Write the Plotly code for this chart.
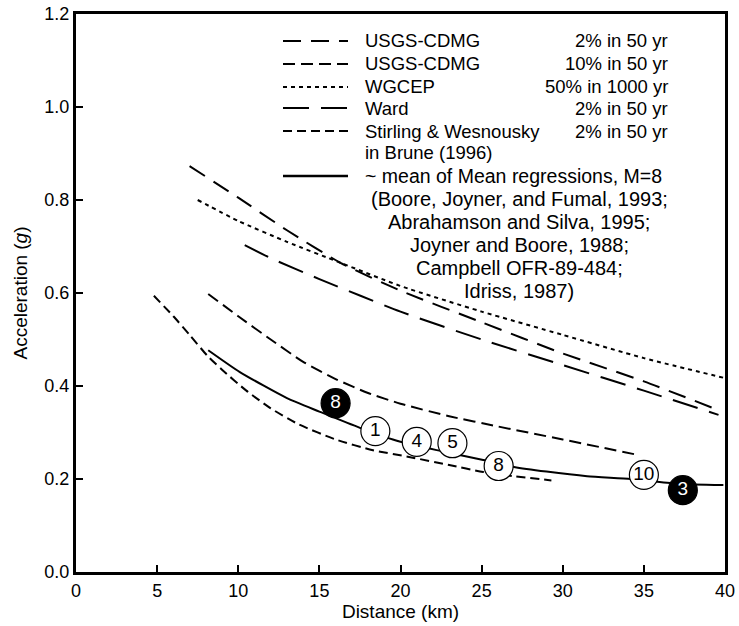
import plotly.graph_objects as go

# ---------------- data ----------------
usgs2_x = [7.0, 10, 13, 16.3, 20, 25, 30, 35, 39.6]
usgs2_y = [0.873, 0.805, 0.735, 0.665, 0.605, 0.537, 0.47, 0.41, 0.348]

usgs10_x = [8.15, 10, 12, 14, 16, 18, 20, 23, 26, 30, 34.6]
usgs10_y = [0.598, 0.55, 0.50, 0.452, 0.415, 0.385, 0.362, 0.335, 0.313, 0.285, 0.252]

wgcep_x = [7.5, 10, 13, 16.3, 20, 25, 30, 35, 40]
wgcep_y = [0.80, 0.755, 0.71, 0.665, 0.615, 0.56, 0.51, 0.46, 0.417]

ward_x = [10.4, 12, 15, 20, 25, 30, 35, 39.6]
ward_y = [0.703, 0.675, 0.63, 0.56, 0.50, 0.445, 0.39, 0.338]

stirling_x = [4.8, 6, 7, 8.1, 9, 10.5, 12, 13.7, 16, 18.3, 20.6, 23, 25.1, 27, 29.3]
stirling_y = [0.594, 0.55, 0.51, 0.465, 0.435, 0.39, 0.352, 0.318, 0.285, 0.262, 0.247, 0.23, 0.215, 0.206, 0.197]

mean_x = [8.15, 10.1, 13, 15, 17.5, 20, 22.5, 25.1, 27, 29, 31.5, 34.2, 37, 39.9]
mean_y = [0.477, 0.43, 0.374, 0.345, 0.31, 0.28, 0.26, 0.241, 0.226, 0.216, 0.206, 0.20, 0.19, 0.187]

marker_x = [16.0, 18.45, 21.0, 23.2, 26.05, 35.0, 37.4]
marker_y = [0.363, 0.303, 0.28, 0.277, 0.228, 0.209, 0.176]
marker_text = ["8", "1", "4", "5", "8", "10", "3"]
marker_filled = [True, False, False, False, False, False, True]

x_ticks = [0, 5, 10, 15, 20, 25, 30, 35, 40]
y_ticks = [0.0, 0.2, 0.4, 0.6, 0.8, 1.0, 1.2]
y_ticklabels = ["0.0", "0.2", "0.4", "0.6", "0.8", "1.0", "1.2"]

legend_names = ["USGS-CDMG", "USGS-CDMG", "WGCEP", "Ward", "Stirling & Wesnousky"]
legend_periods = ["2% in 50 yr", "10% in 50 yr", "50% in 1000 yr", "2% in 50 yr", "2% in 50 yr"]
mean_label = "~ mean of Mean regressions, M=8"
refs = ["(Boore, Joyner, and Fumal, 1993;", "Abrahamson and Silva, 1995;",
        "Joyner and Boore, 1988;", "Campbell OFR-89-484;", "Idriss, 1987)"]

# ---------------- styles ----------------
FONT = "Liberation Sans, Arial, sans-serif"
dashes = ["18px,10px", "12px,6px", "4px,4px", "26px,12px", "9px,5px"]
series = [(usgs2_x, usgs2_y), (usgs10_x, usgs10_y), (wgcep_x, wgcep_y),
          (ward_x, ward_y), (stirling_x, stirling_y)]

fig = go.Figure()
for (sx, sy), d, n in zip(series, dashes, legend_names):
    fig.add_trace(go.Scatter(x=sx, y=sy, mode="lines",
                             line=dict(color="black", width=2, dash=d, shape="spline", smoothing=0.6),
                             name=n, showlegend=False, hoverinfo="skip"))
fig.add_trace(go.Scatter(x=mean_x, y=mean_y, mode="lines",
                         line=dict(color="black", width=2, shape="spline", smoothing=0.6),
                         showlegend=False, hoverinfo="skip"))

fill = ["black" if f else "white" for f in marker_filled]
tcol = ["white" if f else "black" for f in marker_filled]
fig.add_trace(go.Scatter(x=marker_x, y=marker_y, mode="markers+text", text=marker_text,
                         textposition="middle center",
                         textfont=dict(family=FONT, size=19, color=tcol),
                         marker=dict(size=29, color=fill, line=dict(color="black", width=1.2)),
                         showlegend=False, hoverinfo="skip"))

# ---------------- legend (drawn by hand to mimic the two-column layout) ----------------
L, R, T, B = 76, 14, 14, 54
W, H = 739, 626
pw, ph = W - L - R, H - T - B

def px(xp):
    return (xp - L) / pw

def py(yp):
    return (H - B - yp) / ph

row_y = [41, 64, 87, 108, 131]
key_x0, key_x1, text_x, right_x = 283, 348, 363, 670
LEG = dict(size=18.5)
REF = dict(size=20)
shapes = []
annotations = []
for ry, d, n, p in zip(row_y, dashes, legend_names, legend_periods):
    shapes.append(dict(type="line", xref="paper", yref="paper", x0=px(key_x0), x1=px(key_x1),
                       y0=py(ry), y1=py(ry), line=dict(color="black", width=2, dash=d)))
    annotations.append(dict(xref="paper", yref="paper", x=px(text_x), y=py(ry), text=n, font=LEG,
                            xanchor="left", yanchor="middle", showarrow=False))
    annotations.append(dict(xref="paper", yref="paper", x=px(right_x), y=py(ry), text=p, font=LEG,
                            xanchor="right", yanchor="middle", showarrow=False))
annotations.append(dict(xref="paper", yref="paper", x=px(text_x), y=py(153), text="in Brune (1996)",
                        font=LEG, xanchor="left", yanchor="middle", showarrow=False))
shapes.append(dict(type="line", xref="paper", yref="paper", x0=px(key_x0), x1=px(key_x1),
                   y0=py(176), y1=py(176), line=dict(color="black", width=2.5)))
annotations.append(dict(xref="paper", yref="paper", x=px(text_x), y=py(176), text=mean_label,
                        font=dict(size=19.5), xanchor="left", yanchor="middle", showarrow=False))
for i, r in enumerate(refs):
    annotations.append(dict(xref="paper", yref="paper", x=px(519), y=py(199 + 23 * i), text=r,
                            font=REF, xanchor="center", yanchor="middle", showarrow=False))

fig.update_layout(
    width=W, height=H,
    margin=dict(l=L, r=R, t=T, b=B, pad=0),
    paper_bgcolor="white", plot_bgcolor="white",
    font=dict(family=FONT, size=18, color="black"),
    shapes=shapes, annotations=annotations,
    showlegend=False,
)
fig.update_xaxes(range=[0, 40], tickvals=x_ticks, ticktext=[str(v) for v in x_ticks],
                 showgrid=False, zeroline=False, showline=True, linecolor="black", linewidth=3,
                 mirror=True, ticks="inside", ticklen=7, tickwidth=2, tickcolor="black",
                 tickfont=dict(size=18), automargin=False,
                 title=dict(text="Distance (km)", font=dict(size=19), standoff=2))
fig.update_yaxes(range=[0, 1.2], tickvals=y_ticks, ticktext=y_ticklabels,
                 showgrid=False, zeroline=False, showline=True, linecolor="black", linewidth=3,
                 mirror=True, ticks="inside", ticklen=7, tickwidth=2, tickcolor="black",
                 tickfont=dict(size=18), automargin=False,
                 title=dict(text="Acceleration (<i>g</i>)", font=dict(size=19), standoff=12))

fig.write_html("out.html")
